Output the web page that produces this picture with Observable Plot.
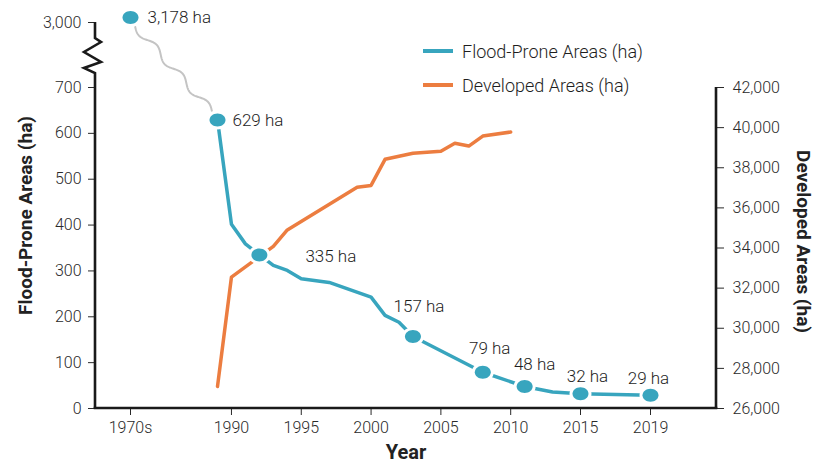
<!DOCTYPE html>
<html>
<head>
<meta charset="utf-8">
<script src="https://cdn.jsdelivr.net/npm/d3@7"></script>
<script src="https://cdn.jsdelivr.net/npm/@observablehq/plot@0.6"></script>
<style>
  body { margin: 0; background: #fff; font-family: Roboto, "Liberation Sans", sans-serif; }
  #wrap { position: relative; width: 815px; height: 469px; }
  .legend { position: absolute; left: 423px; top: 34px; font-size: 18px; font-weight: 300; color: #1e1e1e; }
  .legend .row { display: flex; align-items: center; height: 34px; }
  .legend .sw { display: inline-block; width: 30px; height: 4px; margin-right: 9px; }
</style>
</head>
<body>
<div id="wrap">
  <div class="legend">
    <div class="row"><span class="sw" style="background:#38a5be"></span>Flood-Prone Areas (ha)</div>
    <div class="row"><span class="sw" style="background:#ec7d40"></span>Developed Areas (ha)</div>
  </div>
</div>
<script>
// Flood-prone area (ha); the 1970s baseline is placed at 1975 on the year axis.
const floodYears  = [1975, 1989, 1990, 1991, 1992, 1993, 1994, 1995, 1997, 2000, 2001, 2002, 2003, 2008, 2011, 2013, 2015, 2019];
const floodValues = [3178, 629, 402, 359, 335, 312, 301, 283, 275, 243, 203, 188, 157, 79, 48, 36, 32, 29];

// Years whose flood-prone value is marked with a dot and a label
const labelYears = [1975, 1989, 1992, 2003, 2008, 2011, 2015, 2019];

// Developed area (ha)
const devYears  = [1989, 1990, 1993, 1994, 1999, 2000, 2001, 2003, 2005, 2006, 2007, 2008, 2010];
const devValues = [27100, 32550, 34080, 34900, 37030, 37120, 38420, 38720, 38820, 39220, 39080, 39580, 39780];

// Axis ticks
const yearTicks = [1975, 1990, 1995, 2000, 2005, 2010, 2015, 2019];
const yearTickLabels = ["1970s", "1990", "1995", "2000", "2005", "2010", "2015", "2019"];
const floodTicks = [0, 100, 200, 300, 400, 500, 600, 700, 3000];
const devTicks = [26000, 28000, 30000, 32000, 34000, 36000, 38000, 40000, 42000];

const BLUE = "#38a5be", ORANGE = "#ec7d40", INK = "#222", TICK = "#2a2a2a";

// The developed-area axis (26,000–42,000) shares the plot height with 0–700 ha.
const devMin = 26000, devMax = 42000, floodSpan = 700;
const devToY = v => (v - devMin) * floodSpan / (devMax - devMin);

const flood = floodYears.map((year, i) => ({year, value: floodValues[i]}));
const developed = devYears.map((year, i) => ({year, value: devToY(devValues[i])}));
const labelled = flood.filter(d => labelYears.includes(d.year));
const fmt = d3.format(",");

// Label placement around each marked point: [dx, dy, textAnchor]
const placement = {
  1975: [17, 0, "start"],
  1989: [15, 0, "start"],
  1992: [46, 2, "start"],
  2003: [6, -30, "middle"],
  2008: [7, -24, "middle"],
  2011: [10, -22, "middle"],
  2015: [7, -17, "middle"],
  2019: [-2, -17, "middle"]
};

// Ellipse-shaped dot symbol
const ellipse = {
  draw(ctx) {
    const rx = 8, ry = 6.5, k = 0.5523;
    ctx.moveTo(rx, 0);
    ctx.bezierCurveTo(rx, ry * k, rx * k, ry, 0, ry);
    ctx.bezierCurveTo(-rx * k, ry, -rx, ry * k, -rx, 0);
    ctx.bezierCurveTo(-rx, -ry * k, -rx * k, -ry, 0, -ry);
    ctx.bezierCurveTo(rx * k, -ry, rx, -ry * k, rx, 0);
    ctx.closePath();
  }
};

// Axis lines: left axis with a break between 700 and 3,000, bottom, and right.
function axisLines(index, scales, values, dim) {
  const g = d3.create("svg:g").attr("fill", "none").attr("stroke", "#1a1a1a").attr("stroke-width", 2.6);
  const x0 = dim.marginLeft, x1 = dim.width - dim.marginRight;
  const y0 = scales.y(0), yTop = scales.y(3000), yDevTop = scales.y(floodSpan);
  const left = [[x0, yTop], [x0, yTop + 16], [x0 + 6, yTop + 20], [x0 - 11, yTop + 30],
                [x0 + 6, yTop + 40], [x0 - 11, yTop + 46], [x0, yTop + 51], [x0, y0]];
  g.append("path").attr("stroke-linejoin", "miter").attr("d", d3.line()(left));
  g.append("path").attr("d", d3.line()([[x0 - 1.3, y0], [x1 + 1.3, y0]]));
  g.append("path").attr("d", d3.line()([[x1, y0], [x1, yDevTop]]));
  return g.node();
}

// Wavy connector spanning the gap between the 1970s value and 1989
function squiggle(index, scales) {
  const ax = scales.x(1975) + 5, ay = scales.y(3178) + 9;
  const bx = scales.x(1989) - 5, by = scales.y(629) - 8;
  const dx = bx - ax, dy = by - ay, len = Math.hypot(dx, dy);
  const nx = -dy / len, ny = dx / len;
  const pts = d3.range(0, 1.0001, 0.005).map(t => {
    const w = 3.5 * Math.sin(t * Math.PI * 2 * 3);
    return [ax + dx * t + nx * w, ay + dy * t + ny * w];
  });
  return d3.create("svg:path")
    .attr("d", d3.line()(pts))
    .attr("fill", "none").attr("stroke", "#c4c4c4").attr("stroke-width", 2)
    .node();
}

const labelMarks = labelled.map(d => {
  const [dx, dy, anchor] = placement[d.year];
  return Plot.text([d], {
    x: "year", y: "value", text: d => `${fmt(d.value)} ha`,
    dx, dy, textAnchor: anchor, fontSize: 17, fontWeight: 300, fill: "#1e1e1e"
  });
});

const chart = Plot.plot({
  width: 815,
  height: 469,
  marginLeft: 95,
  marginRight: 99,
  marginTop: 22,
  marginBottom: 61,
  style: {fontFamily: "Roboto, 'Liberation Sans', sans-serif", fontSize: "16px", background: "transparent"},
  x: {type: "linear", domain: [1975, 1989, 2015, 2019], range: [130, 217, 580, 650]},
  y: {type: "linear", domain: [0, 700, 3000], range: [408, 87, 22]},
  marks: [
    Plot.axisX(yearTicks, {
      tickSize: 7, tickPadding: 6, color: TICK, fontWeight: 300, label: null,
      tickFormat: d => yearTickLabels[yearTicks.indexOf(d)]
    }),
    Plot.axisY(floodTicks, {
      anchor: "left", tickSize: 7, tickPadding: 7, color: TICK, fontWeight: 300, label: null,
      tickFormat: d => fmt(d)
    }),
    Plot.axisY(devTicks.map(devToY), {
      anchor: "right", tickSize: 7, tickPadding: 9, color: TICK, fontWeight: 300, label: null,
      tickFormat: v => fmt(Math.round(devMin + v * (devMax - devMin) / floodSpan))
    }),
    axisLines,
    Plot.text(["Flood-Prone Areas (ha)"], {frameAnchor: "left", textAnchor: "middle", dx: -70, rotate: -90, fontSize: 19, fontWeight: "bold", fill: INK}),
    Plot.text(["Developed Areas (ha)"], {frameAnchor: "right", textAnchor: "middle", dx: 87, dy: 26, rotate: 90, fontSize: 19, fontWeight: "bold", fill: INK}),
    Plot.text(["Year"], {frameAnchor: "bottom", dy: 50, fontSize: 20, fontWeight: "bold", fill: INK}),
    squiggle,
    Plot.line(developed, {x: "year", y: "value", stroke: ORANGE, strokeWidth: 3.5, strokeLinejoin: "round"}),
    Plot.line(flood.filter(d => d.year >= 1989), {x: "year", y: "value", stroke: BLUE, strokeWidth: 3.5, strokeLinejoin: "round"}),
    Plot.dot(labelled, {x: "year", y: "value", symbol: ellipse, r: 8, fill: BLUE, stroke: "white", strokeWidth: 6, paintOrder: "stroke"}),
    ...labelMarks
  ]
});

document.getElementById("wrap").prepend(chart);
</script>
</body>
</html>
